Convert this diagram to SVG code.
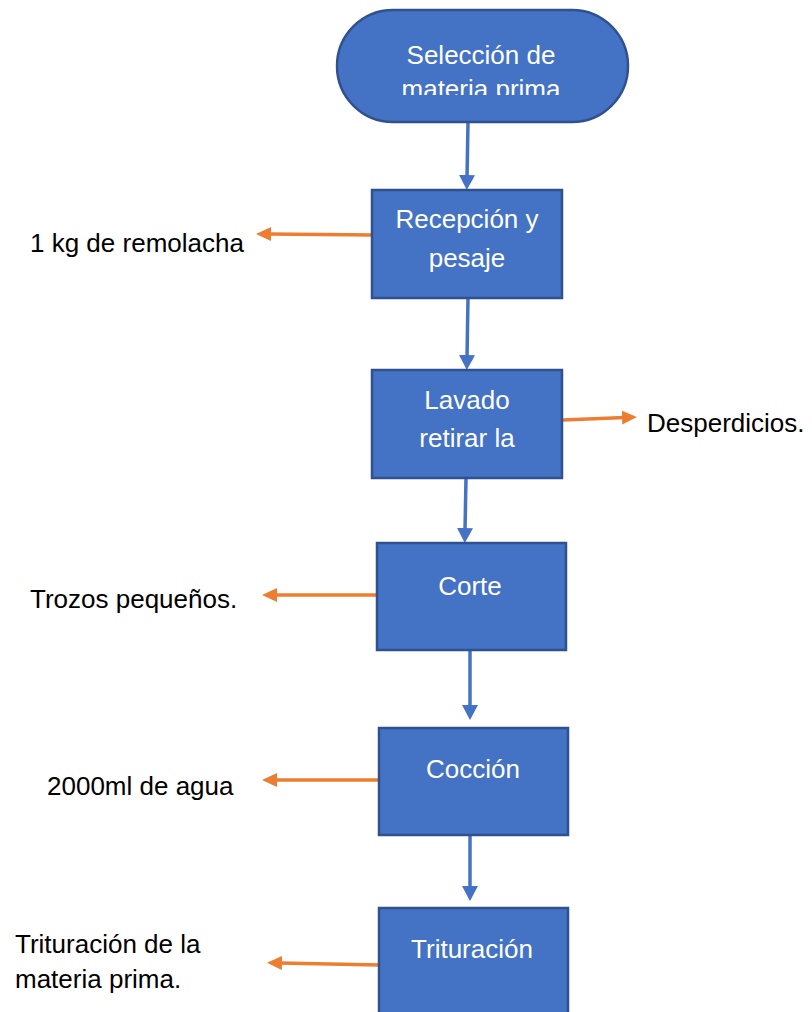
<svg xmlns="http://www.w3.org/2000/svg" width="812" height="1012" viewBox="0 0 812 1012">
  <style>
    .box { fill: #4472C4; stroke: #2F528F; stroke-width: 2.5; }
    .in { font-family: "Liberation Sans", Arial, sans-serif; font-size: 26px; fill: #FFFFFF; text-anchor: middle; }
    .lbl { font-family: "Liberation Sans", Arial, sans-serif; font-size: 26px; fill: #000000; }
    .flow { stroke: #4472C4; stroke-width: 3.5; fill: none; marker-end: url(#headBlue); }
    .side { stroke: #ED7D31; stroke-width: 3.5; fill: none; marker-end: url(#headOrange); }
  </style>
  <defs>
    <marker id="headBlue" markerUnits="userSpaceOnUse" markerWidth="16" markerHeight="17" refX="3" refY="8" orient="auto">
      <path d="M0,0 L15,8 L0,16 Z" fill="#4472C4"/>
    </marker>
    <marker id="headOrange" markerUnits="userSpaceOnUse" markerWidth="16" markerHeight="15" refX="3" refY="7" orient="auto">
      <path d="M0,0 L15,7 L0,14 Z" fill="#ED7D31"/>
    </marker>
    <clipPath id="termClip">
      <rect x="337" y="10" width="291" height="85"/>
    </clipPath>
  </defs>

  <rect width="812" height="1012" fill="#FFFFFF"/>

  <!-- connectors -->
  <g id="connectors">
    <line class="flow" x1="468" y1="122" x2="467" y2="178"/>
    <line class="flow" x1="468" y1="298" x2="467" y2="358"/>
    <line class="flow" x1="466" y1="478" x2="465" y2="531"/>
    <line class="flow" x1="470" y1="650" x2="470" y2="708"/>
    <line class="flow" x1="470" y1="835" x2="470" y2="889"/>

    <line class="side" x1="373" y1="235" x2="268" y2="234"/>
    <line class="side" x1="563" y1="420" x2="625" y2="417.5"/>
    <line class="side" x1="382" y1="595" x2="274" y2="595"/>
    <line class="side" x1="380" y1="780" x2="274" y2="780"/>
    <line class="side" x1="380" y1="965" x2="279" y2="963"/>
  </g>

  <!-- process steps -->
  <g id="seleccion">
    <rect class="box" x="337" y="10" width="291" height="112" rx="56" ry="56"/>
    <text class="in" x="481" y="64">Selección de</text>
    <text class="in" x="481" y="98" clip-path="url(#termClip)">materia prima</text>
  </g>

  <g id="recepcion">
    <rect class="box" x="372" y="190" width="190" height="108"/>
    <text class="in" x="467" y="228">Recepción y</text>
    <text class="in" x="467" y="267">pesaje</text>
  </g>

  <g id="lavado">
    <rect class="box" x="372" y="370" width="190" height="108"/>
    <text class="in" x="467" y="409">Lavado</text>
    <text class="in" x="467" y="447">retirar la</text>
  </g>

  <g id="corte">
    <rect class="box" x="377" y="543" width="189" height="107"/>
    <text class="in" x="470" y="595">Corte</text>
  </g>

  <g id="coccion">
    <rect class="box" x="379" y="728" width="189" height="107"/>
    <text class="in" x="473" y="778">Cocción</text>
  </g>

  <g id="trituracion">
    <rect class="box" x="379" y="908" width="189" height="120"/>
    <text class="in" x="472" y="958">Trituración</text>
  </g>

  <!-- side labels -->
  <g id="lbl-remolacha">
    <text class="lbl" x="30" y="252">1 kg de remolacha</text>
  </g>
  <g id="lbl-desperdicios">
    <text class="lbl" x="647" y="432">Desperdicios.</text>
  </g>
  <g id="lbl-trozos">
    <text class="lbl" x="30" y="608">Trozos pequeños.</text>
  </g>
  <g id="lbl-agua">
    <text class="lbl" x="47" y="795">2000ml de agua</text>
  </g>
  <g id="lbl-trituracion">
    <text class="lbl" x="15" y="953">Trituración de la</text>
    <text class="lbl" x="15" y="988">materia prima.</text>
  </g>
</svg>
